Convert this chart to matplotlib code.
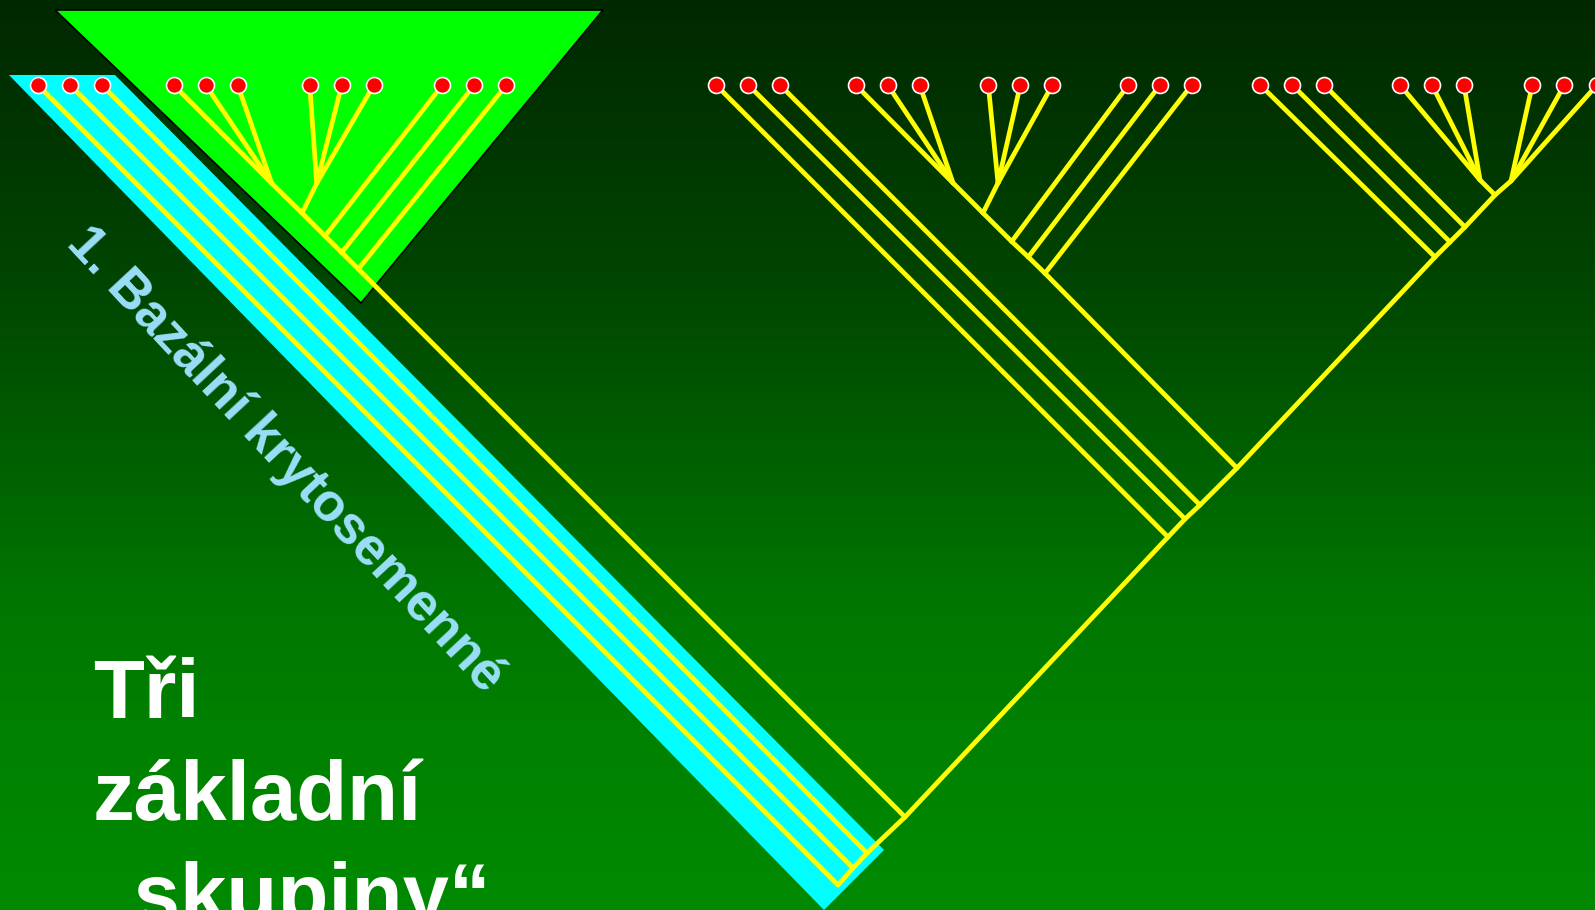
import matplotlib.pyplot as plt
import numpy as np
from matplotlib.patches import Polygon

W, H = 1595, 910

# leaf tips (x positions, all on one row)
leaf_y = 85
group1_x = [37.7, 70, 101.7, 173.7, 205.7, 237.7, 309.7, 341.7, 373.7, 442.3, 474.3, 506.3]
group2_x = [716, 748.3, 780, 855.7, 887.7, 919.7, 988.3, 1020.3, 1052.3, 1128.3, 1160, 1191.7]
group3_x = [1260.3, 1292.3, 1324.3, 1400, 1432, 1464, 1532.3, 1564.3, 1597]

# node each leaf line runs down to
group1_parent = ['root', 'b1', 'b2', 'a_p1', 'a_p1', 'a_p1', 'a_p2', 'a_p2', 'a_p2', 'a_l1', 'a_l2', 'a_l3']
group2_parent = ['b4', 'b5', 'b6', 'c_p1', 'c_p1', 'c_p1', 'c_p2', 'c_p2', 'c_p2', 'c_l1', 'c_l2', 'c_l3']
group3_parent = ['b8', 'b9', 'b10', 'd_p', 'd_p', 'd_p', 'b12', 'b12', 'b12']

# internal nodes of the tree
nodes = {
    'root': (838, 885), 'b1': (853, 868), 'b2': (867, 853), 'b3': (905, 817),
    'b4': (1168, 537), 'b5': (1185, 519), 'b6': (1200, 505), 'b7': (1237, 468),
    'b8': (1435, 257), 'b9': (1450, 242), 'b10': (1465, 227), 'b11': (1495, 195),
    'b12': (1511, 181),
    'a_p1': (271.7, 183.3), 'a_q': (302, 213), 'a_p2': (316.7, 183.3),
    'a_l1': (325, 236), 'a_l2': (341.7, 252.5), 'a_l3': (358.3, 269),
    'c_p1': (953, 183), 'c_q': (983, 213), 'c_p2': (998, 183),
    'c_l1': (1011.7, 241.5), 'c_l2': (1028.3, 257), 'c_l3': (1045, 273.3),
    'd_p': (1480, 180),
}

inner_edges = [
    ('root', 'b1'), ('b1', 'b2'), ('b2', 'b3'), ('b3', 'b4'), ('b4', 'b5'), ('b5', 'b6'),
    ('b6', 'b7'), ('b7', 'b8'), ('b8', 'b9'), ('b9', 'b10'), ('b10', 'b11'), ('b11', 'b12'),
    ('a_p1', 'a_q'), ('a_p2', 'a_q'), ('a_q', 'a_l1'), ('a_l1', 'a_l2'), ('a_l2', 'a_l3'), ('a_l3', 'b3'),
    ('c_p1', 'c_q'), ('c_p2', 'c_q'), ('c_q', 'c_l1'), ('c_l1', 'c_l2'), ('c_l2', 'c_l3'), ('c_l3', 'b7'),
    ('d_p', 'b11'),
]

# highlighted areas
triangle = [(55, 10), (603, 10), (361, 303)]
band = [(9, 75), (115, 75), (884, 850), (824, 910)]

# background gradient (y, green level)
bg_y = [0, 150, 300, 450, 600, 750, 910]
bg_g = [40, 55, 72, 95, 118, 130, 138]

fig = plt.figure(figsize=(15.95, 9.10), dpi=100)
ax = fig.add_axes([0, 0, 1, 1])
ax.set_xlim(0, W)
ax.set_ylim(H, 0)
ax.axis('off')

ys = np.arange(H)
g = np.interp(ys, bg_y, bg_g) / 255.0
grad = np.zeros((H, 1, 3))
grad[:, 0, 1] = g
ax.imshow(grad, extent=(0, W, H, 0), aspect='auto', zorder=0)

ax.add_patch(Polygon(triangle, closed=True, facecolor='#00ff00', edgecolor='black', lw=1.2, zorder=1))
ax.add_patch(Polygon(band, closed=True, facecolor='#00ffff', edgecolor='none', zorder=1))

ax.text(285, 460, '1. Bazální krytosemenné', rotation=-47, rotation_mode='anchor',
        ha='center', va='center', fontsize=38, fontweight='bold',
        family='Liberation Sans', color='#9adff8', zorder=2)

line_kw = dict(color='#ffff00', lw=3.4, solid_capstyle='round', zorder=3)
for a, b in inner_edges:
    (x0, y0), (x1, y1) = nodes[a], nodes[b]
    ax.plot([x0, x1], [y0, y1], **line_kw)

for xs, parents in [(group1_x, group1_parent), (group2_x, group2_parent), (group3_x, group3_parent)]:
    for x, p in zip(xs, parents):
        px, py = nodes[p]
        ax.plot([x, px], [leaf_y, py], **line_kw)

all_x = group1_x + group2_x + group3_x
ax.plot(all_x, [leaf_y] * len(all_x), 'o', ms=11.5, mfc='#ff0000', mec='white', mew=1.2, zorder=4)

title_kw = dict(fontsize=60, fontweight='bold', family='Liberation Sans', color='white',
                ha='left', va='baseline', zorder=5)
ax.text(93, 718, 'Tři', **title_kw)
ax.text(93, 820, 'základní', **title_kw)
ax.text(93, 922, '„skupiny“', **title_kw)

fig.savefig('out.png', dpi=100)
